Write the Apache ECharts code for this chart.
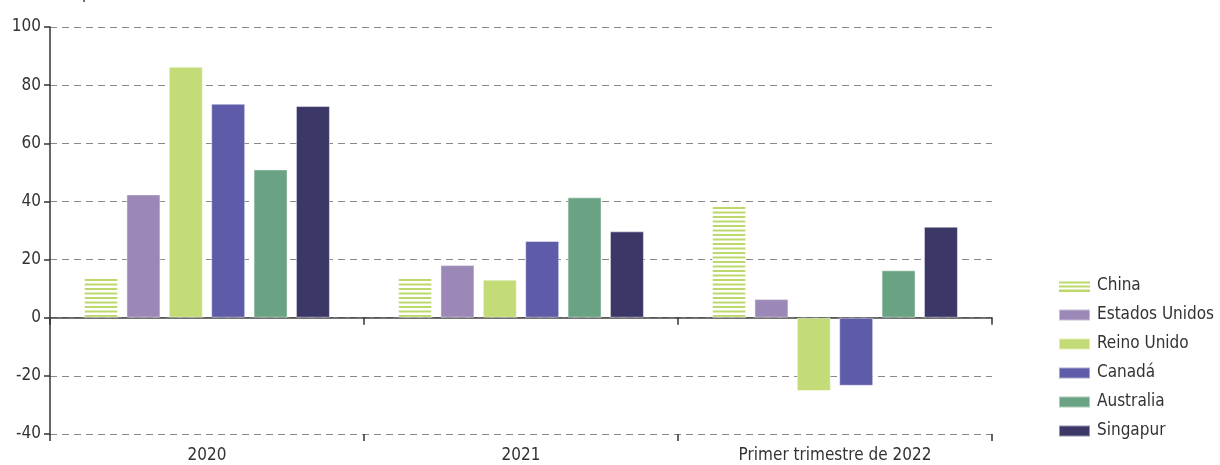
<!DOCTYPE html>
<html>
<head>
<meta charset="utf-8">
<script src="https://cdn.jsdelivr.net/npm/echarts@6/dist/echarts.min.js"></script>
<style>
  html, body { margin: 0; padding: 0; background: #fff; }
  #chart { width: 1220px; height: 465px; }
</style>
</head>
<body>
<div id="chart"></div>
<script>
// Periods on the horizontal axis
const periods = ['2020', '2021', 'Primer trimestre de 2022'];

// Series values (percent)
const china         = [14, 14, 38.6];
const estadosUnidos = [42.4, 18.1, 6.4];
const reinoUnido    = [86.3, 13.1, -25.2];
const canada        = [73.6, 26.4, -23.4];
const australia     = [51, 41.4, 16.3];
const singapur      = [72.8, 29.7, 31.3];

// Value axis ticks
const yTicks = [-40, -20, 0, 20, 40, 60, 80, 100];

const FONT = "'Liberation Sans Narrow', 'DejaVu Sans Condensed', 'Roboto Condensed', Roboto, sans-serif";
const TEXT = '#333';
const CHINA_GREEN = '#bcd86a';

// Horizontal stripe fill for China
function stripes() {
  const c = document.createElement('canvas');
  c.width = 8; c.height = 9;
  const ctx = c.getContext('2d');
  ctx.fillStyle = '#ffffff';
  ctx.fillRect(0, 0, c.width, c.height);
  ctx.fillStyle = CHINA_GREEN;
  ctx.fillRect(0, 0, c.width, 2);
  ctx.fillRect(0, 4.5, c.width, 2);
  return c;
}

// Legend swatch for China: three thin horizontal lines
function stripeIcon() {
  const c = document.createElement('canvas');
  c.width = 31; c.height = 11;
  const ctx = c.getContext('2d');
  ctx.fillStyle = CHINA_GREEN;
  ctx.fillRect(0, 1, 31, 2);
  ctx.fillRect(0, 5, 31, 2);
  ctx.fillRect(0, 9, 31, 2);
  return 'image://' + c.toDataURL();
}

const seriesDefs = [
  { name: 'China',          data: china,         color: { image: stripes(), repeat: 'repeat' } },
  { name: 'Estados Unidos', data: estadosUnidos, color: '#9c88b6' },
  { name: 'Reino Unido',    data: reinoUnido,    color: '#c4dc78' },
  { name: 'Canadá',         data: canada,        color: '#5e5ba8' },
  { name: 'Australia',      data: australia,     color: '#6aa383' },
  { name: 'Singapur',       data: singapur,      color: '#3b3868' }
];

const chart = echarts.init(document.getElementById('chart'), null, { renderer: 'canvas' });

chart.setOption({
  animation: false,
  backgroundColor: '#fff',
  textStyle: { fontFamily: FONT },
  title: {
    text: 'Variación porcentual, interanual',
    left: 2,
    top: -20,
    textStyle: { fontFamily: FONT, fontSize: 17, fontWeight: 'normal', color: TEXT }
  },
  legend: {
    orient: 'vertical',
    left: 1058,
    top: 276,
    padding: 0,
    itemWidth: 31,
    itemHeight: 11,
    itemGap: 9,
    textStyle: { fontFamily: FONT, fontSize: 17, color: TEXT, lineHeight: 20, padding: [0, 0, 0, 2] },
    data: [
      { name: 'China', icon: stripeIcon() },
      { name: 'Estados Unidos', icon: 'rect' },
      { name: 'Reino Unido', icon: 'rect' },
      { name: 'Canadá', icon: 'rect' },
      { name: 'Australia', icon: 'rect' },
      { name: 'Singapur', icon: 'rect' }
    ]
  },
  grid: { left: 50, right: 228, top: 27, bottom: 31, containLabel: false },
  xAxis: [
    {
      type: 'category',
      data: periods,
      position: 'bottom',
      axisLine: { show: false, onZero: false },
      axisTick: { show: true, length: 7, lineStyle: { color: '#333', width: 1.5 } },
      axisLabel: { fontFamily: FONT, fontSize: 17, color: TEXT, margin: 13 }
    },
    {
      type: 'category',
      data: periods,
      position: 'bottom',
      axisLine: { show: true, onZero: true, lineStyle: { color: '#444', width: 1.5 } },
      axisTick: { show: true, length: 7, lineStyle: { color: '#333', width: 1.5 } },
      axisLabel: { show: false }
    }
  ],
  yAxis: {
    type: 'value',
    min: yTicks[0],
    max: yTicks[yTicks.length - 1],
    interval: 20,
    axisLine: { show: true, lineStyle: { color: '#333', width: 1.5 } },
    axisTick: { show: true, length: 6, lineStyle: { color: '#333', width: 1.5 } },
    axisLabel: { fontFamily: FONT, fontSize: 17, color: TEXT, margin: 9 },
    splitLine: { show: true, lineStyle: { color: '#8a8a8a', type: [7, 5], width: 1 } }
  },
  series: seriesDefs.map(s => ({
    name: s.name,
    type: 'bar',
    xAxisIndex: 0,
    data: s.data,
    barCategoryGap: '21.7%',
    barGap: '24.7%',
    itemStyle: { color: s.color, borderColor: 'rgba(255,255,255,0.45)', borderWidth: 1 }
  }))
});
</script>
</body>
</html>
